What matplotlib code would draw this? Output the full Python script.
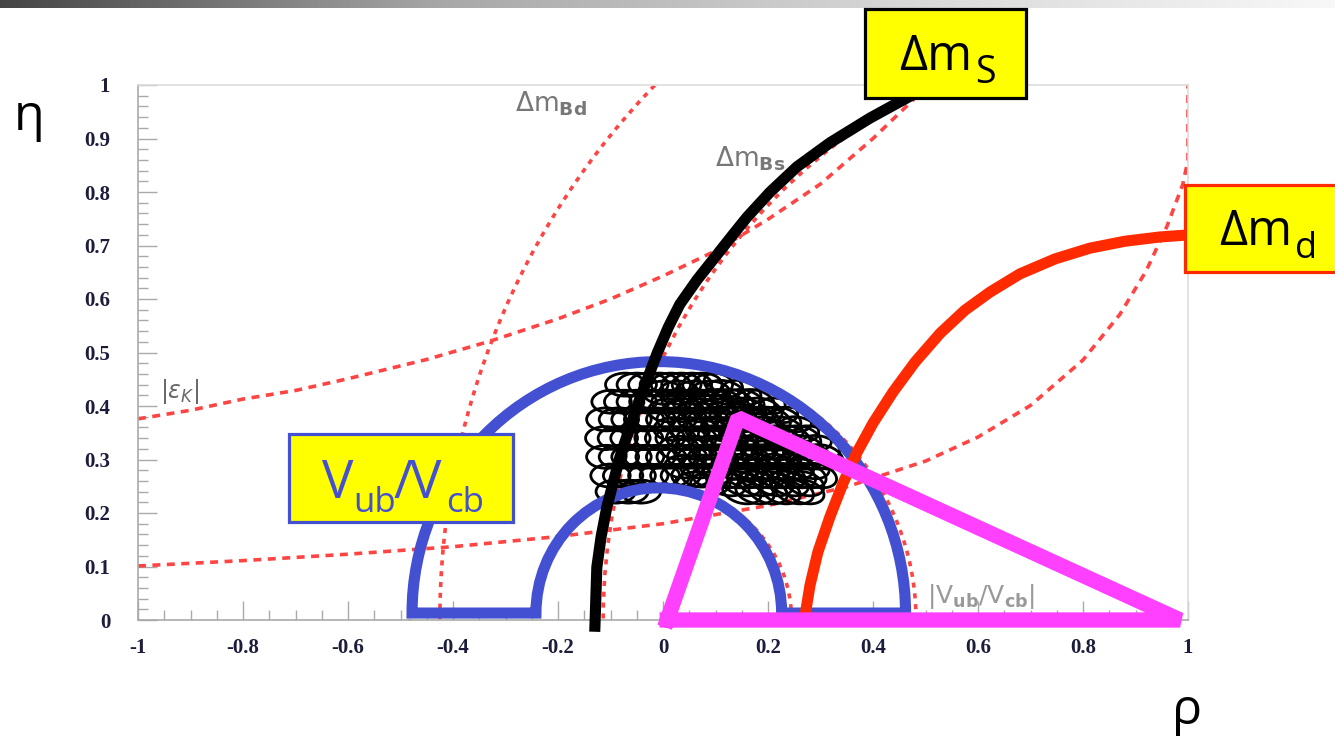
import numpy as np
import matplotlib
matplotlib.use('Agg')
import matplotlib.pyplot as plt
from matplotlib.patches import Rectangle, Ellipse, Arc, PathPatch
from matplotlib.path import Path
from matplotlib.transforms import Affine2D
from matplotlib.ticker import MultipleLocator
from matplotlib.colors import LinearSegmentedColormap

# axis ticks
x_ticks = [-1, -0.8, -0.6, -0.4, -0.2, 0, 0.2, 0.4, 0.6, 0.8, 1]
x_tick_labels = ['-1', '-0.8', '-0.6', '-0.4', '-0.2', '0', '0.2', '0.4', '0.6', '0.8', '1']
y_ticks = [0, 0.1, 0.2, 0.3, 0.4, 0.5, 0.6, 0.7, 0.8, 0.9, 1]
y_tick_labels = ['0', '0.1', '0.2', '0.3', '0.4', '0.5', '0.6', '0.7', '0.8', '0.9', '1']

# dm_s constraint (black band edge)
dms_rho = [-0.130, -0.126, -0.118, -0.107, -0.082, -0.050, -0.011, 0.010, 0.032, 0.065, 0.095,
           0.128, 0.160, 0.204, 0.255, 0.318, 0.394, 0.474]
dms_eta = [-0.022, 0.099, 0.155, 0.211, 0.305, 0.398, 0.499, 0.547, 0.590, 0.636, 0.673,
           0.714, 0.753, 0.800, 0.847, 0.892, 0.938, 0.981]

# dm_d constraint (red band edge)
dmd_rho = [0.271, 0.280, 0.295, 0.318, 0.343, 0.370, 0.400, 0.438, 0.480, 0.528, 0.575, 0.623,
           0.680, 0.747, 0.813, 0.880, 0.947, 1.004]
dmd_eta = [0.011, 0.065, 0.127, 0.193, 0.256, 0.314, 0.368, 0.426, 0.482, 0.536, 0.579, 0.613,
           0.647, 0.675, 0.695, 0.708, 0.716, 0.720]

# unitarity triangle
tri_rho = [0.008, 0.143, 0.985]
tri_eta = [0.0, 0.378, 0.0]

# |Vub/Vcb| half ring
vub_center = (-0.008, 0.013)
vub_r_outer = 0.470
vub_r_inner = 0.234

# dotted circles of the original plot
dm_dotted_radii = [1.425, 1.114]      # centred on (1, 0)
vub_dotted_radii = [0.482, 0.245]     # centred on (0, 0)

# |eps_K| hyperbolas
epsk_up_rho = [-1.0, -0.9, -0.8, -0.7, -0.6, -0.45, -0.33, -0.2, -0.1, 0.0, 0.1, 0.2, 0.3, 0.4, 0.49]
epsk_up_eta = [0.376, 0.392, 0.413, 0.429, 0.451, 0.487, 0.521, 0.563, 0.600, 0.643, 0.690, 0.749, 0.815, 0.900, 0.985]
epsk_lo_rho = [-1.0, -0.8, -0.6, -0.4, -0.2, 0.0, 0.2, 0.35, 0.5, 0.6, 0.7, 0.8, 0.87, 0.92, 0.96, 0.99, 1.0, 1.0]
epsk_lo_eta = [0.101, 0.111, 0.123, 0.137, 0.156, 0.180, 0.214, 0.249, 0.297, 0.342, 0.401, 0.486, 0.571, 0.652, 0.736, 0.814, 0.860, 1.0]

# scan ellipses (rows of centres)
blob_eta_rows = [0.440, 0.408, 0.375, 0.340, 0.305, 0.270, 0.240,
                 0.425, 0.392, 0.357, 0.322, 0.287, 0.255]
blob_rho_rows = [
    [-0.072, -0.05, -0.028, -0.006, 0.015, 0.035, 0.055, 0.075, 0.095, 0.115],
    [-0.098, -0.074, -0.05, -0.026, -0.004, 0.016, 0.036, 0.056, 0.076, 0.096, 0.116, 0.136, 0.156, 0.176, 0.196],
    [-0.108, -0.084, -0.06, -0.036, -0.014, 0.006, 0.026, 0.046, 0.066, 0.086, 0.106, 0.126, 0.146,
     0.166, 0.186, 0.206, 0.226, 0.246],
    [-0.11, -0.086, -0.062, -0.038, -0.016, 0.004, 0.024, 0.044, 0.064, 0.084, 0.104, 0.124, 0.144,
     0.164, 0.184, 0.204, 0.224, 0.244, 0.264, 0.284],
    [-0.108, -0.084, -0.06, -0.036, -0.014, 0.006, 0.026, 0.046, 0.066, 0.086, 0.106, 0.126, 0.146,
     0.166, 0.186, 0.206, 0.226, 0.246, 0.266, 0.286, 0.306],
    [-0.10, -0.076, -0.052, -0.028, -0.006, 0.014, 0.034, 0.054, 0.074, 0.094, 0.114, 0.134, 0.154,
     0.174, 0.194, 0.214, 0.234, 0.254, 0.274, 0.294],
    [-0.09, -0.066, -0.042, 0.15, 0.175, 0.20, 0.225, 0.25, 0.27],
    [0.0, 0.03, 0.06, 0.09, 0.12, 0.15],
    [0.01, 0.04, 0.07, 0.10, 0.13, 0.16, 0.19, 0.22],
    [0.02, 0.05, 0.08, 0.11, 0.14, 0.17, 0.20, 0.23, 0.26],
    [0.03, 0.06, 0.09, 0.12, 0.15, 0.18, 0.21, 0.24, 0.27, 0.30],
    [0.04, 0.07, 0.10, 0.13, 0.16, 0.19, 0.22, 0.25, 0.28],
    [0.06, 0.09, 0.12, 0.15, 0.18, 0.21, 0.24, 0.27],
]

BLUE = '#4450d2'
RED = '#ff2a00'
PINK = '#ff40ff'
DOT = '#ff4444'

fig = plt.figure(figsize=(13.35, 7.36), dpi=100)

# grey gradient bar on top of the slide
bar = fig.add_axes([0, 1 - 8 / 736, 1, 8 / 736])
grad = LinearSegmentedColormap.from_list('g', ['#454545', '#a8a8a8', '#d6d6d6', '#f8f8f8'])
bar.imshow(np.linspace(0, 1, 512)[None, :], cmap=grad, aspect='auto')
bar.axis('off')

ax = fig.add_axes([138 / 1335, 116 / 736, 1050 / 1335, 535 / 736])
ax.set_xlim(-1, 1)
ax.set_ylim(0, 1)

# dotted constraints of the underlying plot
for r in dm_dotted_radii:
    ax.add_patch(Arc((1, 0), 2 * r, 2 * r, theta1=90, theta2=180, color=DOT, lw=2.6,
                     linestyle=(0, (1.4, 1.6)), zorder=2))
for r in vub_dotted_radii:
    ax.add_patch(Arc((0, 0), 2 * r, 2 * r, theta1=0, theta2=180, color=DOT, lw=2.6,
                     linestyle=(0, (1.4, 1.6)), zorder=2))
ax.plot(epsk_up_rho, epsk_up_eta, color=DOT, lw=2.6, linestyle=(0, (2.2, 1.8)), zorder=2)
ax.plot(epsk_lo_rho, epsk_lo_eta, color=DOT, lw=2.6, linestyle=(0, (2.2, 1.8)), zorder=2)

# scan ellipses
for eta, rhos in zip(blob_eta_rows, blob_rho_rows):
    for rho in rhos:
        tilt = -15 if rho > 0.1 else 0
        ax.add_patch(Ellipse((rho, eta), 0.075, 0.043, angle=tilt, fill=False, ec='black',
                             lw=2.0, zorder=3))

# |Vub/Vcb| half ring outline
arc = Path.arc(0, 180)
outer = Affine2D().scale(vub_r_outer).translate(*vub_center).transform(arc.vertices)
inner = Affine2D().scale(vub_r_inner).translate(*vub_center).transform(arc.vertices)[::-1]
verts = np.vstack([outer, inner, outer[:1]])
codes = [Path.MOVETO] + list(arc.codes[1:]) + [Path.LINETO] + list(arc.codes[1:]) + [Path.CLOSEPOLY]
ax.add_patch(PathPatch(Path(verts, codes), fill=False, ec=BLUE, lw=8, joinstyle='miter', zorder=4))

ax.plot(dms_rho, dms_eta, color='black', lw=8, solid_capstyle='butt', solid_joinstyle='round',
        clip_on=False, zorder=5)
ax.plot(dmd_rho, dmd_eta, color=RED, lw=8, solid_capstyle='butt', solid_joinstyle='round',
        clip_on=False, zorder=5)
ax.plot(tri_rho + tri_rho[:1], tri_eta + tri_eta[:1], color=PINK, lw=11,
        solid_joinstyle='bevel', clip_on=False, zorder=6)

# labels of the underlying plot
ax.text(-0.282, 0.95, r'$\Delta\mathrm{m}_{\mathbf{Bd}}$', fontsize=19, color='#555555', alpha=0.8)
ax.text(0.099, 0.847, r'$\Delta\mathrm{m}_{\mathbf{Bs}}$', fontsize=19, color='#555555', alpha=0.8)
ax.text(-0.958, 0.415, r'$|\varepsilon_K|$', fontsize=17, color='#444444', alpha=0.8)
ax.text(0.503, 0.032, r'$|\mathrm{V}_{\mathbf{ub}}/\mathrm{V}_{\mathbf{cb}}|$', fontsize=18,
        color='#999999', zorder=3)

# frame and ticks
ax.set_xticks(x_ticks)
ax.set_xticklabels(x_tick_labels)
ax.set_yticks(y_ticks)
ax.set_yticklabels(y_tick_labels)
ax.xaxis.set_minor_locator(MultipleLocator(0.05))
ax.yaxis.set_minor_locator(MultipleLocator(0.02))
ax.tick_params(which='both', direction='in', color='#aaaaaa', width=1)
ax.tick_params(which='major', length=14)
ax.tick_params(which='minor', length=7)
ax.tick_params(axis='x', pad=13)
ax.tick_params(axis='y', pad=20)
for lab in ax.get_xticklabels() + ax.get_yticklabels():
    lab.set_fontfamily('Liberation Serif')
    lab.set_fontweight('bold')
    lab.set_fontsize(15)
    lab.set_color('#1c1c3c')
for side in ['top', 'right']:
    ax.spines[side].set_color('#dddddd')
for side in ['left', 'bottom']:
    ax.spines[side].set_color('#aaaaaa')
for s in ax.spines.values():
    s.set_linewidth(1.2)

# slide overlay in pixel coordinates
ov = fig.add_axes([0, 0, 1, 1], zorder=10)
ov.set_xlim(0, 1335)
ov.set_ylim(736, 0)
ov.axis('off')
ov.patch.set_alpha(0)

box_font = 'Open Sans'
ov.add_patch(Rectangle((864.5, 8.5), 161, 89, fc='#ffff00', ec='black', lw=2.3))
ov.text(899, 70, 'Δm', fontsize=35, family=box_font, va='baseline', color='black')
ov.text(975, 83, 'S', fontsize=27, family=box_font, va='baseline', color='black')

ov.add_patch(Rectangle((1184.5, 184.5), 170, 87, fc='#ffff00', ec=RED, lw=2.3, clip_on=False))
ov.text(1219, 245, 'Δm', fontsize=35, family=box_font, va='baseline', color='black')
ov.text(1295, 258, 'd', fontsize=26, family=box_font, va='baseline', color='black')

ov.add_patch(Rectangle((288.5, 433.5), 224, 88, fc='#ffff00', ec=BLUE, lw=2.3))
ov.text(322, 498, 'V', fontsize=38, family=box_font, va='baseline', color=BLUE)
ov.text(353, 512, 'ub', fontsize=25, family=box_font, va='baseline', color=BLUE)
ov.text(393, 498, '/', fontsize=38, family=box_font, va='baseline', color=BLUE)
ov.text(410, 498, 'V', fontsize=38, family=box_font, va='baseline', color=BLUE)
ov.text(446, 512, 'cb', fontsize=25, family=box_font, va='baseline', color=BLUE)

ov.text(14, 130, 'η', fontsize=36, family=box_font, va='baseline', color='black')
ov.text(1172, 724, 'ρ', fontsize=36, family=box_font, va='baseline', color='black')

fig.savefig('out.png', dpi=100)
